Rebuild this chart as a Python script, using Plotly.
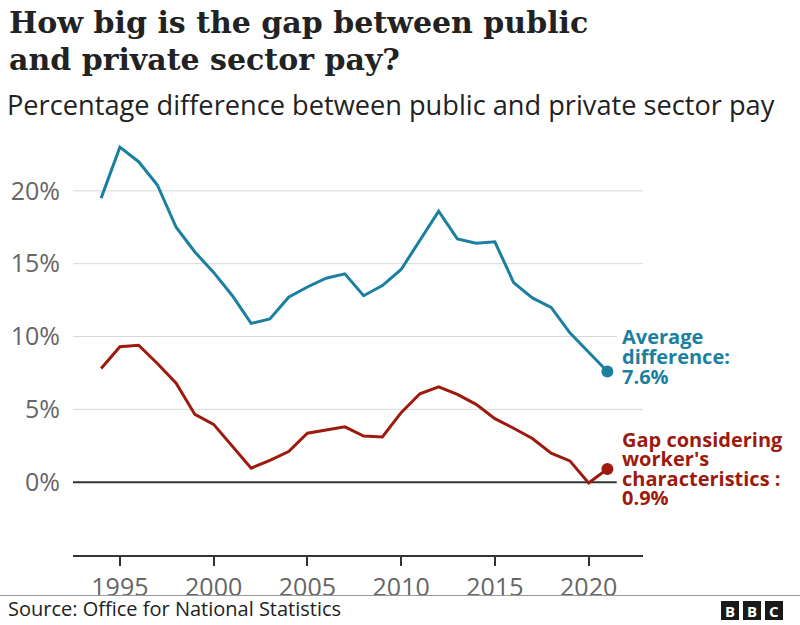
import plotly.graph_objects as go

years = list(range(1994, 2022))
average_diff = [19.5, 23.0, 22.0, 20.4, 17.5, 15.8, 14.4, 12.8, 10.9, 11.2,
                12.7, 13.4, 14.0, 14.3, 12.8, 13.5, 14.6, 16.6, 18.6, 16.7,
                16.4, 16.5, 13.7, 12.65, 12.0, 10.25, 8.9, 7.6]
gap_chars = [7.8, 9.3, 9.4, 8.15, 6.8, 4.65, 3.97, 2.5, 0.96, 1.5,
             2.1, 3.36, 3.56, 3.8, 3.17, 3.1, 4.77, 6.07, 6.55, 6.03,
             5.34, 4.36, 3.7, 3.0, 1.99, 1.46, -0.05, 0.9]
y_ticks = [0, 5, 10, 15, 20]
y_tick_labels = ["0%", "5%", "10%", "15%", "20%"]
x_ticks = [1995, 2000, 2005, 2010, 2015, 2020]
x_range = [1992.5, 2022.9]
y_range = [-5, 25]

BLUE = "#1B7FA1"
RED = "#9C1A0E"
W, H = 800, 625
ML, MR, MT, MB = 73, 157, 118, 70
PW, PH = W - ML - MR, H - MT - MB

def py(p):  # pixel y -> paper y
    return (H - MB - p) / PH

def px(p):  # pixel x -> paper x
    return (p - ML) / PW

fig = go.Figure()
fig.add_trace(go.Scatter(x=years, y=average_diff, mode="lines",
                         line=dict(color=BLUE, width=3), hoverinfo="skip"))
fig.add_trace(go.Scatter(x=years, y=gap_chars, mode="lines",
                         line=dict(color=RED, width=3), hoverinfo="skip"))
fig.add_trace(go.Scatter(x=[years[-1]], y=[average_diff[-1]], mode="markers",
                         marker=dict(color=BLUE, size=12), hoverinfo="skip"))
fig.add_trace(go.Scatter(x=[years[-1]], y=[gap_chars[-1]], mode="markers",
                         marker=dict(color=RED, size=12), hoverinfo="skip"))

ann = []
SANS = "Open Sans"
SERIF = "DejaVu Serif"
# Titles
for txt, yy in [("How big is the gap between public", 23), ("and private sector pay?", 60)]:
    ann.append(dict(text="<b>%s</b>" % txt, x=px(7), y=py(yy),
                    xref="paper", yref="paper", xanchor="left", yanchor="middle",
                    showarrow=False, font=dict(family=SERIF, size=30, color="#222")))
ann.append(dict(text="Percentage difference between public and private sector pay",
                x=px(5), y=py(104), xref="paper", yref="paper", xanchor="left",
                yanchor="middle", showarrow=False,
                font=dict(family=SANS, size=27.2, color="#222")))
# Source
ann.append(dict(text="Source: Office for National Statistics", x=px(6), y=py(608),
                xref="paper", yref="paper", xanchor="left", yanchor="middle",
                showarrow=False, font=dict(family=SANS, size=20, color="#222")))

# End labels
blue_lines = ["Average", "difference:", "7.6%"]
for i, t in enumerate(blue_lines):
    ann.append(dict(text="<b>%s</b>" % t, x=years[-1], y=average_diff[-1],
                    xanchor="left", yanchor="middle", xshift=13,
                    yshift=35 - 20 * i, showarrow=False,
                    font=dict(family=SANS, size=20, color=BLUE)))
red_lines = ["Gap considering", "worker's", "characteristics :", "0.9%"]
for i, t in enumerate(red_lines):
    ann.append(dict(text="<b>%s</b>" % t, x=years[-1], y=gap_chars[-1],
                    xanchor="left", yanchor="middle", xshift=13,
                    yshift=30 - 19.5 * i, showarrow=False,
                    font=dict(family=SANS, size=20, color=RED)))

shapes = []
# gridlines (10% and 0% stop short of the end labels)
for v in y_ticks:
    x_end = years[-1] + 0.5 if v in (0, 10) else x_range[1]
    shapes.append(dict(type="line", xref="x", yref="y", x0=x_range[0], x1=x_end,
                       y0=v, y1=v, layer="below",
                       line=dict(color="#333" if v == 0 else "#d9d9d9",
                                 width=2 if v == 0 else 1)))
shapes.append(dict(type="line", xref="paper", yref="paper", x0=px(0), x1=px(W),
                   y0=py(595.5), y1=py(595.5), line=dict(color="#999", width=1)))
# BBC logo
for i, letter in enumerate(["B", "B", "C"]):
    x0 = 721 + 22 * i
    shapes.append(dict(type="rect", xref="paper", yref="paper",
                       x0=px(x0), x1=px(x0 + 18), y0=py(620), y1=py(601),
                       fillcolor="#1a1a1a", line=dict(width=0)))
    ann.append(dict(text="<b>%s</b>" % letter, x=px(x0 + 9), y=py(610.5),
                    xref="paper", yref="paper", xanchor="center", yanchor="middle",
                    showarrow=False, font=dict(family=SANS, size=15, color="white")))

fig.update_layout(
    width=W, height=H, margin=dict(l=ML, r=MR, t=MT, b=MB),
    paper_bgcolor="white", plot_bgcolor="white", showlegend=False,
    annotations=ann, shapes=shapes,
    xaxis=dict(range=x_range, tickvals=x_ticks, showgrid=False,
               zeroline=False, showline=True, linecolor="#333", linewidth=2,
               ticks="outside", ticklen=9, tickwidth=1.5, tickcolor="#333",
               tickfont=dict(family=SANS, size=25, color="#666"),
               ticklabelstandoff=0, fixedrange=True),
    yaxis=dict(range=y_range, tickvals=y_ticks, ticktext=y_tick_labels,
               showgrid=False, zeroline=False,
               showline=False, ticks="", ticklabelstandoff=12,
               tickfont=dict(family=SANS, size=25, color="#666"), fixedrange=True),
)

fig.write_html("out.html", config={"displayModeBar": False},
               post_script="document.body.style.margin='0';")
